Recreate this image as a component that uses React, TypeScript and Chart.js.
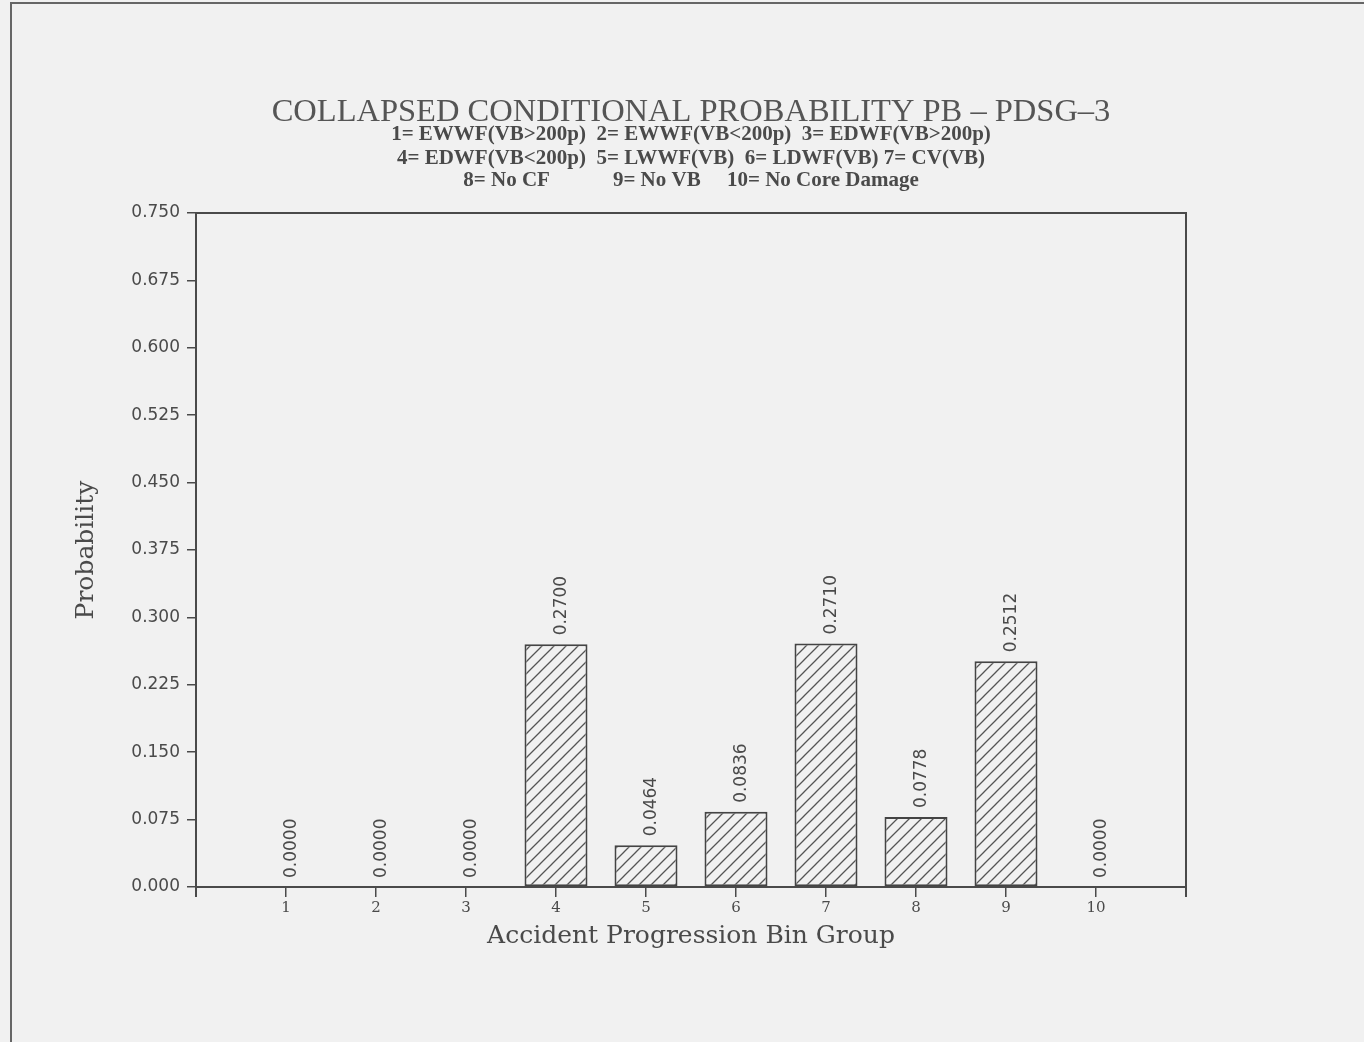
import React, { useEffect, useRef } from 'react';
import { Chart, registerables } from 'chart.js';

Chart.register(...registerables);

// ---- data ----
const binGroups = [1, 2, 3, 4, 5, 6, 7, 8, 9, 10];
const probabilities = [0.0, 0.0, 0.0, 0.27, 0.0464, 0.0836, 0.271, 0.0778, 0.2512, 0.0];
const yTickValues = [0, 0.075, 0.15, 0.225, 0.3, 0.375, 0.45, 0.525, 0.6, 0.675, 0.75];
const titleText = 'COLLAPSED CONDITIONAL PROBABILITY PB \u2013 PDSG\u20133';
const legendLines = [
  '1= EWWF(VB>200p)  2= EWWF(VB<200p)  3= EDWF(VB>200p)',
  '4= EDWF(VB<200p)  5= LWWF(VB)  6= LDWF(VB) 7= CV(VB)',
  '8= No CF            9= No VB     10= No Core Damage',
];
const xAxisTitle = 'Accident Progression Bin Group';
const yAxisTitle = 'Probability';

const PAPER = '#f1f1f1';
const INK = '#4a4a4a';

function makeHatch(): CanvasPattern | string {
  const t = document.createElement('canvas');
  t.width = 12;
  t.height = 12;
  const c = t.getContext('2d');
  if (!c) return PAPER;
  c.fillStyle = PAPER;
  c.fillRect(0, 0, 12, 12);
  c.strokeStyle = '#555';
  c.lineWidth = 1.3;
  c.beginPath();
  c.moveTo(0, 12);
  c.lineTo(12, 0);
  c.moveTo(-1, 1);
  c.lineTo(1, -1);
  c.moveTo(11, 13);
  c.lineTo(13, 11);
  c.stroke();
  const p = c.createPattern(t, 'repeat');
  return p || PAPER;
}

const paperPlugin = {
  id: 'paper',
  beforeDraw(chart: any) {
    const { ctx, width, height } = chart;
    ctx.save();
    ctx.fillStyle = PAPER;
    ctx.fillRect(0, 0, width, height);
    ctx.strokeStyle = '#666';
    ctx.lineWidth = 2;
    ctx.beginPath();
    ctx.moveTo(11, height);
    ctx.lineTo(11, 3);
    ctx.lineTo(width, 3);
    ctx.stroke();
    ctx.restore();
  },
};

const decorPlugin = {
  id: 'decor',
  afterDraw(chart: any) {
    const { ctx, chartArea } = chart;
    const { left, right, top, bottom } = chartArea;
    const cx = (left + right) / 2;
    ctx.save();
    // plot frame top & right, axis extensions
    ctx.strokeStyle = INK;
    ctx.lineWidth = 2;
    ctx.beginPath();
    ctx.moveTo(left, top);
    ctx.lineTo(right, top);
    ctx.lineTo(right, bottom + 10);
    ctx.moveTo(left, bottom);
    ctx.lineTo(left, bottom + 10);
    ctx.stroke();

    // titles
    ctx.fillStyle = '#555';
    ctx.textAlign = 'center';
    ctx.textBaseline = 'alphabetic';
    ctx.font = '32.5px "Liberation Serif", serif';
    ctx.fillText(titleText, cx, 121);
    ctx.fillStyle = INK;
    ctx.font = 'bold 21px "Liberation Serif", serif';
    const baselines = [140, 164, 186];
    legendLines.forEach((line, i) => ctx.fillText(line, cx, baselines[i]));

    // value labels
    const meta = chart.getDatasetMeta(0);
    ctx.font = '17px "DejaVu Sans", sans-serif';
    ctx.fillStyle = INK;
    meta.data.forEach((el: any, i: number) => {
      const v = probabilities[i];
      ctx.save();
      ctx.translate(el.x + 6, el.y - 9);
      ctx.rotate(-Math.PI / 2);
      ctx.textAlign = 'left';
      ctx.textBaseline = 'middle';
      ctx.fillText(v.toFixed(4), 0, 0);
      ctx.restore();
    });
    ctx.restore();
  },
};

export default function App() {
  const ref = useRef<HTMLCanvasElement | null>(null);

  useEffect(() => {
    if (!ref.current) return;
    const hatch = makeHatch();
    const chart = new Chart(ref.current, {
      type: 'bar',
      data: {
        datasets: [
          {
            data: binGroups.map((g, i) => ({ x: g, y: probabilities[i] })),
            backgroundColor: hatch as any,
            borderColor: '#444',
            borderWidth: 2,
            borderSkipped: false,
            barPercentage: 0.7,
            categoryPercentage: 1,
          },
        ],
      },
      options: {
        animation: false,
        responsive: false,
        devicePixelRatio: 1,
        layout: { padding: { top: 213, right: 178, bottom: 0, left: 0 } },
        plugins: {
          legend: { display: false },
          tooltip: { enabled: false },
          title: { display: false },
        },
        scales: {
          x: {
            type: 'linear',
            min: 0,
            max: 11,
            offset: false,
            afterBuildTicks: (scale: any) => {
              scale.ticks = binGroups.map((v) => ({ value: v }));
            },
            afterFit: (scale: any) => {
              scale.height = 155;
            },
            ticks: {
              color: INK,
              font: { family: '"DejaVu Serif", serif', size: 15 },
              padding: 2,
              maxRotation: 0,
              autoSkip: false,
              callback: (v: any) => String(v),
            },
            grid: {
              offset: false,
              drawOnChartArea: false,
              drawTicks: true,
              tickLength: 10,
              color: INK,
              lineWidth: 1.5,
            },
            border: { display: true, color: INK, width: 2 },
            title: {
              display: true,
              text: xAxisTitle,
              color: INK,
              font: { family: '"DejaVu Serif", serif', size: 25 },
              padding: { top: 0, bottom: 91 },
            },
          },
          y: {
            type: 'linear',
            min: 0,
            max: 0.75,
            afterBuildTicks: (scale: any) => {
              scale.ticks = yTickValues.map((v) => ({ value: v }));
            },
            afterFit: (scale: any) => {
              scale.width = 196;
            },
            ticks: {
              color: INK,
              font: { family: '"DejaVu Sans", sans-serif', size: 17 },
              padding: 7,
              autoSkip: false,
              callback: (v: any) => Number(v).toFixed(3),
            },
            grid: {
              drawOnChartArea: false,
              drawTicks: true,
              tickLength: 9,
              color: INK,
              lineWidth: 1.5,
            },
            border: { display: true, color: INK, width: 2 },
            title: {
              display: true,
              text: yAxisTitle,
              color: INK,
              font: { family: '"DejaVu Serif", serif', size: 25 },
              padding: { top: 71, bottom: 0 },
            },
          },
        },
      },
      plugins: [paperPlugin, decorPlugin],
    } as any);
    return () => chart.destroy();
  }, []);

  return (
    <div style={{ position: 'absolute', left: 0, top: 0, width: 1364, height: 1042 }}>
      <canvas ref={ref} width={1364} height={1042} style={{ display: 'block' }} />
    </div>
  );
}
